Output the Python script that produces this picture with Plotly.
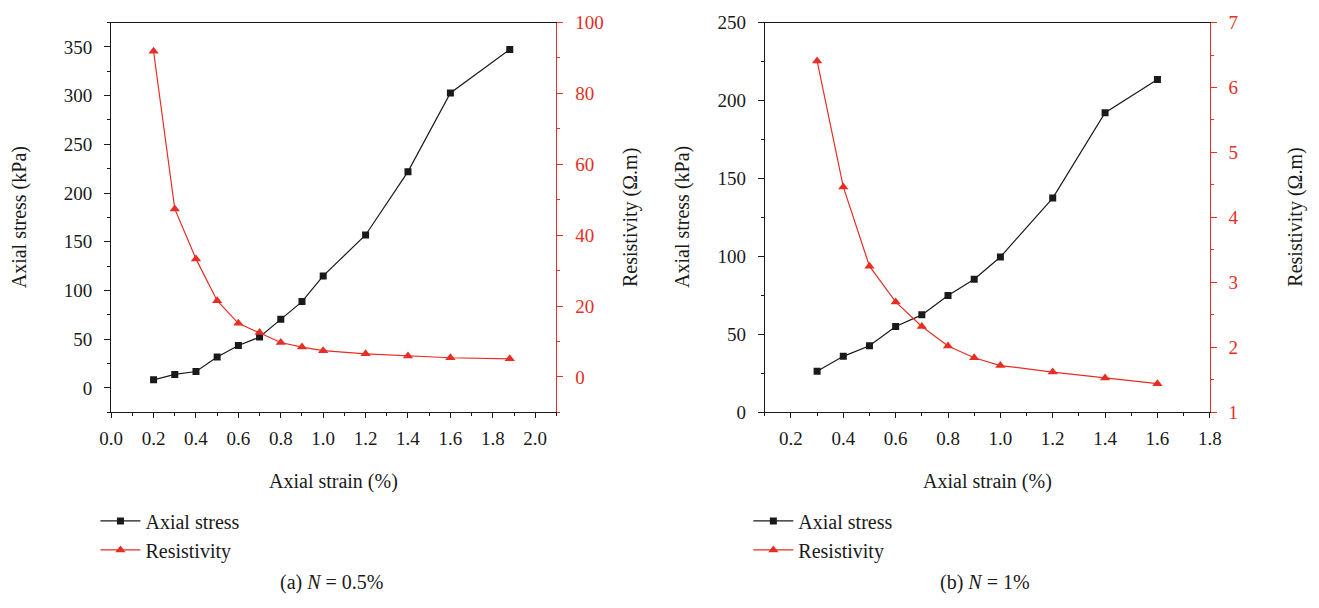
import plotly.graph_objects as go

# ---- data: (a) N = 0.5 % ----
strain_a = [0.2, 0.3, 0.4, 0.5, 0.6, 0.7, 0.8, 0.9, 1.0, 1.2, 1.4, 1.6, 1.88]
stress_a = [8.3, 13.9, 16.9, 31.7, 43.6, 52.2, 70.4, 88.6, 115.0, 157.0, 222.0, 302.7, 347.3]
resist_a = [91.9, 47.4, 33.3, 21.5, 15.1, 12.5, 9.7, 8.4, 7.4, 6.5, 5.9, 5.4, 5.1]

# ---- data: (b) N = 1 % ----
strain_b = [0.3, 0.4, 0.5, 0.6, 0.7, 0.8, 0.9, 1.0, 1.2, 1.4, 1.6]
stress_b = [26.4, 35.9, 42.7, 55.1, 62.5, 74.9, 85.4, 99.6, 137.4, 192.2, 213.5]
resist_b = [6.41, 4.47, 3.25, 2.70, 2.32, 2.02, 1.84, 1.72, 1.62, 1.53, 1.44]

series_names = ["Axial stress", "Resistivity"]
captions = ["(a) <i>N</i> = 0.5%", "(b) <i>N</i> = 1%"]
x_title = "Axial strain (%)"
y_title_left = "Axial stress (kPa)"
y_title_right = "Resistivity (Ω.m)"

W, H = 1319, 608
BLACK = "#1a1a1a"
RED = "#e62e24"
FONT = "Liberation Serif"
TICK_SIZE = 19
TEXT_SIZE = 20


def px(x):
    return x / W


def py(y):
    return 1 - y / H


# panel geometry in pixels
panels = [
    dict(left=101, right=554.5),
    dict(left=766.7, right=1220),
]
top, bottom = 13, 416.7
ydom = [py(bottom), py(top)]

fig = go.Figure()

# panel (a)
fig.add_trace(go.Scatter(x=strain_a, y=stress_a, name=series_names[0], mode="lines+markers",
                         line=dict(color=BLACK, width=1.2),
                         marker=dict(symbol="square", size=7, color=BLACK),
                         xaxis="x", yaxis="y", legend="legend"))
fig.add_trace(go.Scatter(x=strain_a, y=resist_a, name=series_names[1], mode="lines+markers",
                         line=dict(color=RED, width=1.2),
                         marker=dict(symbol="triangle-up", size=9, color=RED),
                         xaxis="x", yaxis="y2", legend="legend"))
# panel (b)
fig.add_trace(go.Scatter(x=strain_b, y=stress_b, name=series_names[0], mode="lines+markers",
                         line=dict(color=BLACK, width=1.2),
                         marker=dict(symbol="square", size=7, color=BLACK),
                         xaxis="x2", yaxis="y3", legend="legend2"))
fig.add_trace(go.Scatter(x=strain_b, y=resist_b, name=series_names[1], mode="lines+markers",
                         line=dict(color=RED, width=1.2),
                         marker=dict(symbol="triangle-up", size=9, color=RED),
                         xaxis="x2", yaxis="y4", legend="legend2"))


def xaxis(dom, rng, anchor):
    return dict(domain=dom, range=rng, anchor=anchor, tick0=0, dtick=0.2, tickformat=".1f",
                ticks="outside", ticklen=5, tickwidth=1, tickcolor=BLACK,
                showline=True, linecolor=BLACK, linewidth=1, mirror=True,
                showgrid=False, zeroline=False, ticklabelstandoff=4,
                tickfont=dict(family=FONT, size=TICK_SIZE, color=BLACK),
                minor=dict(tick0=0, dtick=0.1, ticks="outside", ticklen=3, tickcolor=BLACK,
                           showgrid=False))


def yleft(rng, dt, mdt, anchor):
    return dict(domain=ydom, range=rng, anchor=anchor, tick0=0, dtick=dt,
                ticks="outside", ticklen=6, tickwidth=1, tickcolor=BLACK,
                showline=True, linecolor=BLACK, linewidth=1,
                showgrid=False, zeroline=False, ticklabelstandoff=8,
                tickfont=dict(family=FONT, size=TICK_SIZE, color=BLACK),
                minor=dict(tick0=0, dtick=mdt, ticks="outside", ticklen=3, tickcolor=BLACK,
                           showgrid=False))


def yright(rng, dt, mdt, anchor, over, t0=0):
    return dict(range=rng, anchor=anchor, overlaying=over, side="right", tick0=t0, dtick=dt,
                ticks="outside", ticklen=6, tickwidth=1, tickcolor=RED,
                showline=True, linecolor=RED, linewidth=1,
                showgrid=False, zeroline=False, ticklabelstandoff=8,
                tickfont=dict(family=FONT, size=TICK_SIZE, color=RED),
                minor=dict(tick0=t0, dtick=mdt, ticks="outside", ticklen=3, tickcolor=RED,
                           showgrid=False))


def legend_at(xpix):
    return dict(x=px(xpix), y=py(509), xanchor="left", yanchor="top",
                font=dict(family=FONT, size=TEXT_SIZE, color=BLACK),
                bgcolor="rgba(0,0,0,0)", tracegroupgap=0, itemwidth=40)


p1, p2 = panels
fig.update_layout(
    width=W, height=H,
    margin=dict(l=0, r=0, t=0, b=0),
    paper_bgcolor="white", plot_bgcolor="white",
    font=dict(family=FONT, color=BLACK),
    xaxis=xaxis([px(p1["left"]), px(p1["right"])], [0, 2.1], "y"),
    yaxis=yleft([-25, 375], 50, 25, "x"),
    yaxis2=yright([-10, 100], 20, 10, "x", "y"),
    xaxis2=xaxis([px(p2["left"]), px(p2["right"])], [0.1, 1.8], "y3"),
    yaxis3=yleft([0, 250], 50, 25, "x2"),
    yaxis4=yright([1, 7], 1, 0.5, "x2", "y3", t0=1),
    legend=legend_at(85),
    legend2=legend_at(750),
    showlegend=True,
)


def label(text, xpix, ypix, angle=0):
    return dict(text=text, x=px(xpix), y=py(ypix), xref="paper", yref="paper",
                xanchor="center", yanchor="middle", showarrow=False, textangle=angle,
                font=dict(family=FONT, size=TEXT_SIZE, color=BLACK))


annotations = []
for i, p in enumerate(panels):
    cx = (p["left"] + p["right"]) / 2
    annotations.append(label(x_title, cx, 488))
    annotations.append(label(captions[i], cx - 2, 593))
ytitle_pos = [(8, y_title_left), (630, y_title_right), (683, y_title_left), (1307, y_title_right)]
for xpos, txt in ytitle_pos:
    annotations.append(label(txt, xpos, (top + bottom) / 2, angle=-90))
fig.update_layout(annotations=annotations)

fig.write_html("out.html")
